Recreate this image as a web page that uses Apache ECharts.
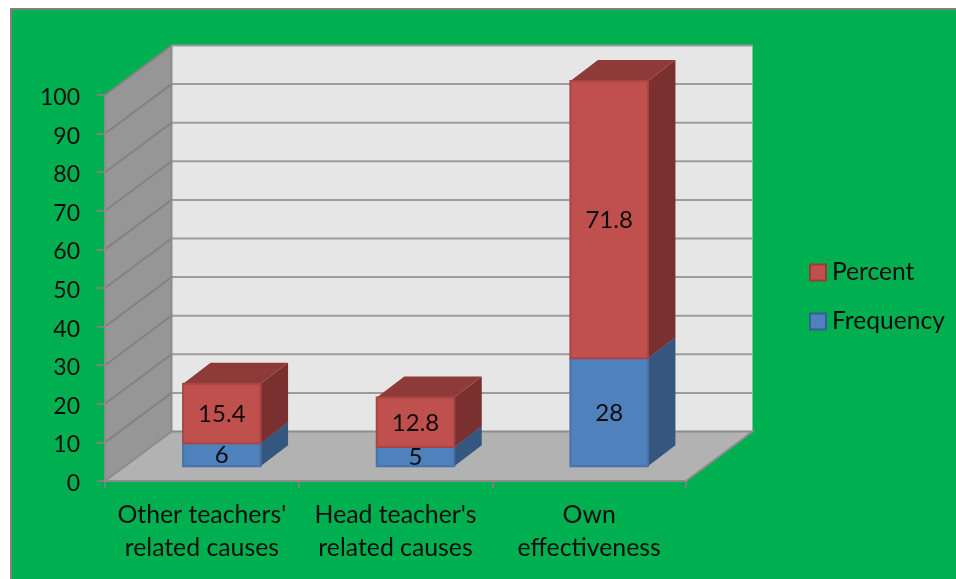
<!DOCTYPE html>
<html>
<head>
<meta charset="utf-8">
<style>
html,body{margin:0;padding:0;background:#fff;width:956px;height:579px;overflow:hidden}
#frame{position:absolute;left:10px;top:8px;width:960px;height:590px;background:#00B050;border:2px solid #7f7f7f;box-sizing:border-box}
#main{position:absolute;left:0;top:0;width:956px;height:579px}
</style>
<script src="https://cdn.jsdelivr.net/npm/echarts@6/dist/echarts.min.js"></script>
</head>
<body>
<div id="frame"></div>
<div id="main"></div>
<script>
var categories = ["Other teachers'\nrelated causes", "Head teacher's\nrelated causes", "Own\neffectiveness"];
var frequency = [6, 5, 28];
var percent = [15.4, 12.8, 71.8];
var yTicks = [0,10,20,30,40,50,60,70,80,90,100];

var FONT = 'Lato';
var TEXT = '#0d0d0d';
var DX = 66.5, DY = -49.5;           // floor / wall depth
var BAR_OFF_X = 20, BAR_OFF_Y = -14.7; // bar front face inset
var BAR_DX = 27.5, BAR_DY = -21;     // bar depth
var BAR_W = 77.5;

function poly(pts, fill, stroke, lw) {
  return {type:'polygon', shape:{points:pts}, style:{fill:fill, stroke:stroke||null, lineWidth:lw||0}};
}

function renderWalls(params, api) {
  var cs = params.coordSys;
  var ox = cs.x, rx = cs.x + cs.width;
  var y0 = api.coord([0, 0])[1], y100 = api.coord([0, 100])[1];
  var kids = [];
  kids.push(poly([[ox+DX,y100+DY],[rx+DX,y100+DY],[rx+DX,y0+DY],[ox+DX,y0+DY]], '#E6E6E6'));
  kids.push(poly([[ox,y100],[ox+DX,y100+DY],[ox+DX,y0+DY],[ox,y0]], '#969696'));
  kids.push(poly([[ox,y0],[ox+DX,y0+DY],[rx+DX,y0+DY],[rx,y0]], '#B2B2B2'));
  yTicks.forEach(function (v) {
    var y = api.coord([0, v])[1];
    if (v > 0) {
      kids.push({type:'line', shape:{x1:ox+DX,y1:y+DY,x2:rx+DX,y2:y+DY}, style:{stroke:'#9c9c9c', lineWidth:2}});
      kids.push({type:'line', shape:{x1:ox,y1:y,x2:ox+DX,y2:y+DY}, style:{stroke:'#828282', lineWidth:2}});
    }
  });
  kids.push({type:'line', shape:{x1:ox+DX,y1:y100+DY,x2:ox+DX,y2:y0+DY}, style:{stroke:'#8c8c8c', lineWidth:2}});
  kids.push({type:'polyline', shape:{points:[[ox,y0],[ox+DX,y0+DY],[rx+DX,y0+DY],[rx,y0]]},
    style:{fill:null, stroke:'#8c8c8c', lineWidth:2}});
  kids.push({type:'line', shape:{x1:ox,y1:y100,x2:ox,y2:y0}, style:{stroke:'#8c8c8c', lineWidth:2}});
  kids.push({type:'line', shape:{x1:ox,y1:y0,x2:rx,y2:y0}, style:{stroke:'#8c8c8c', lineWidth:2}});
  return {type:'group', children:kids};
}

function makeBarRenderer(front, top, side, edge) {
  return function (params, api) {
    var idx = api.value(0), v0 = api.value(1), v1 = api.value(2);
    var c0 = api.coord([idx, v0]), c1 = api.coord([idx, v1]);
    var xl = c0[0] + BAR_OFF_X - BAR_W/2, xr = xl + BAR_W;
    var yb = c0[1] + BAR_OFF_Y, yt = c1[1] + BAR_OFF_Y;
    return {type:'group', children:[
      poly([[xr,yb],[xr+BAR_DX,yb+BAR_DY],[xr+BAR_DX,yt+BAR_DY],[xr,yt]], side),
      poly([[xl,yt],[xl+BAR_DX,yt+BAR_DY],[xr+BAR_DX,yt+BAR_DY],[xr,yt]], top),
      {type:'rect', shape:{x:xl,y:yt,width:BAR_W,height:yb-yt},
        style:{fill:front, stroke:edge, lineWidth:2}},
      {type:'text', style:{x:(xl+xr)/2, y:(yb+yt)/2+1, text:String(api.value(3)), align:'center', verticalAlign:'middle',
        fill:TEXT, font:'24px '+FONT}}
    ]};
  };
}

function stackData(lower, vals) {
  return vals.map(function (v, i) { return [i, lower[i], lower[i]+v, v]; });
}

var chart = echarts.init(document.getElementById('main'), null, {renderer:'canvas'});
chart.setOption({
  animation:false,
  backgroundColor:'transparent',
  textStyle:{fontFamily:FONT},
  grid:{left:105, top:95, width:581, height:386},
  legend:{
    left:804, top:255, orient:'vertical', itemWidth:16, itemHeight:16, itemGap:24,
    data:[
      {name:'Percent', icon:'rect', itemStyle:{color:'#C0504D', borderColor:'#9C3A37', borderWidth:2}},
      {name:'Frequency', icon:'rect', itemStyle:{color:'#4F81BD', borderColor:'#35608F', borderWidth:2}}
    ],
    textStyle:{color:TEXT, fontSize:24.6, fontFamily:FONT, padding:[0,0,0,1]}
  },
  xAxis:{
    type:'category', data:categories, boundaryGap:true,
    axisLine:{show:false},
    axisTick:{show:true, length:7, lineStyle:{color:'#808080', width:2}},
    axisLabel:{color:TEXT, fontSize:24.8, fontFamily:FONT, margin:18, lineHeight:33, interval:0}
  },
  yAxis:{
    type:'value', min:0, max:100, interval:10,
    axisLine:{show:false},
    axisTick:{show:true, length:8, lineStyle:{color:'#808080', width:2}},
    axisLabel:{margin:25, formatter:'{t|{value}}',
      rich:{t:{color:TEXT, fontSize:23, fontFamily:FONT, height:23, lineHeight:23, padding:[5,0,0,0]}}},
    splitLine:{show:false}
  },
  series:[
    {type:'custom', name:'walls', silent:true, z:1, clip:false, data:[[0,0]], renderItem:renderWalls, encode:{x:0,y:1}},
    {type:'custom', name:'Frequency', z:2, clip:false, renderItem:makeBarRenderer('#4F81BD','#3F6796','#35577F','#4573AA'),
      data:stackData([0,0,0], frequency), encode:{x:0,y:[1,2]}, itemStyle:{color:'#4F81BD'}},
    {type:'custom', name:'Percent', z:3, clip:false, renderItem:makeBarRenderer('#C0504D','#8E3A38','#7A302E','#A94543'),
      data:stackData(frequency, percent), encode:{x:0,y:[1,2]}, itemStyle:{color:'#C0504D'}}
  ]
});
</script>
</body>
</html>
